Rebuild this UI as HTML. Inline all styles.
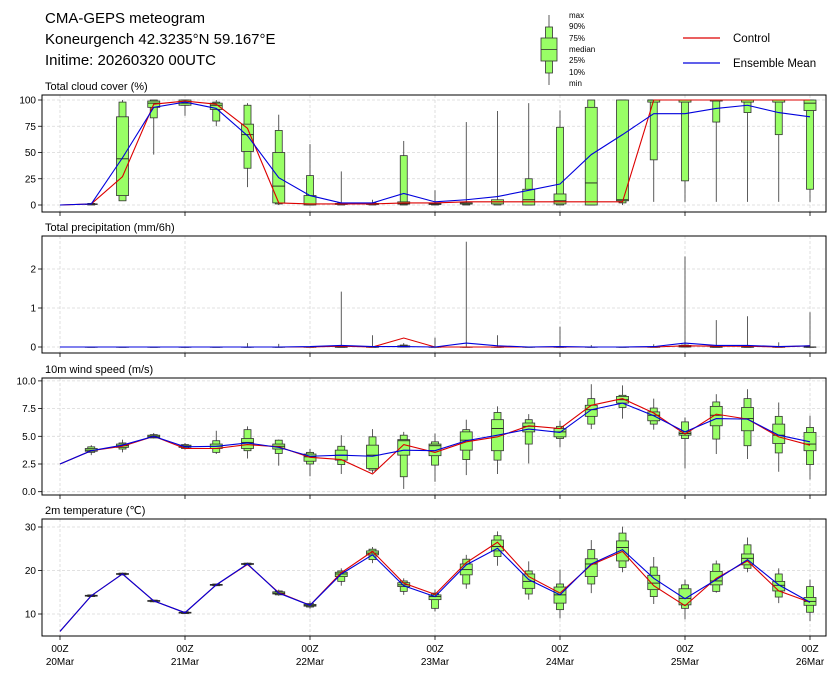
<!DOCTYPE html>
<html><head><meta charset="utf-8"><style>
html,body{margin:0;padding:0;background:#fff;}
svg{display:block;font-family:"Liberation Sans","DejaVu Sans",sans-serif;}
</style></head><body>
<svg id="chart" width="839" height="680" viewBox="0 0 839 680" xmlns="http://www.w3.org/2000/svg">
<g font-size="15" fill="#000">
<text x="45" y="23">CMA-GEPS meteogram</text>
<text x="45" y="44">Koneurgench 42.3235°N 59.167°E</text>
<text x="45" y="65">Initime: 20260320 00UTC</text>
</g>
<g>
<line x1="549" y1="15" x2="549" y2="85" stroke="#333" stroke-width="0.8"/>
<rect x="545.5" y="27" width="7" height="46" fill="#99ff66" stroke="#333" stroke-width="0.8"/>
<rect x="541" y="38" width="16" height="23" fill="#99ff66" stroke="#333" stroke-width="0.8"/>
<line x1="541" y1="49.5" x2="557" y2="49.5" stroke="#333" stroke-width="0.8"/>
<g font-size="8" fill="#000">
<text x="569" y="18">max</text><text x="569" y="29">90%</text><text x="569" y="41">75%</text>
<text x="569" y="52">median</text><text x="569" y="63">25%</text><text x="569" y="75">10%</text><text x="569" y="86">min</text>
</g>
</g>
<g font-size="11.5">
<line x1="683" y1="38" x2="720" y2="38" stroke="#dd0000" stroke-width="1.2"/>
<text x="733" y="42">Control</text>
<line x1="683" y1="63" x2="720" y2="63" stroke="#0000dd" stroke-width="1.2"/>
<text x="733" y="67">Ensemble Mean</text>
</g>
<g id="panels"></g>
</svg>
<script>
// ---- data ----
const dayLabels = ["20Mar","21Mar","22Mar","23Mar","24Mar","25Mar","26Mar"];
const cloudTicks = [0,25,50,75,100];
const cloudMax = [null,2,100,100,100,100,97,86,58,32,5,61,14,79,89.5,97,90,100,100,100,100,100,100,100,100];
const cloudP90 = [null,1.5,98,100,100,98,95,71,28,2,2,47,2,2,3,25,74,100,100,100,100,100,100,100,100];
const cloudP75 = [null,1,84,99,100,97,77,50,9,1.5,1.5,3,2,2,5,15,10.5,93,100,100,100,100,100,100,100];
const cloudMed = [null,1,44,97,97,95,67,18,1,1,1,1,1,1,3,5,4,21,5,100,100,100,100,100,97];
const cloudP25 = [null,0.5,9,93,95,91,51,2,0,0.5,0.5,1,0.5,1,1,0,1,0,4,98,98,99,98,98,90];
const cloudP10 = [null,0,4,83,95,80,35,1,0,0,0,0,0,0,0,0,0,0,2,43,23,79,88,67,15];
const cloudMin = [null,0,4,48,85,75,17,0,0,0,0,0,0,0,0,0,0,0,0,3,3,3,3,3,3];
const cloudMean = [0,1,45,93,98,92,66,26,9,2,2,11,3,5,8,14,20,48,67,87,87,92,95,88,84];
const cloudCtrl = [0,1,27,96,99,96,73,2,1,1,1,2,2,3,3,3,3,3,3,100,100,100,100,100,100];

const precTicks = [0,1,2];
const precMax = [null,0,0,0,0,0,0.1,0.08,0,1.42,0.3,0.1,0.24,2.7,0.3,0,0.52,0.05,0,0.07,2.32,0.69,0.79,0.12,0.89];
const precP90 = [null,0,0,0,0,0,0,0,0,0,0,0.05,0,0,0,0,0,0,0,0,0.05,0,0,0,0];
const precP75 = [null,0,0,0,0,0,0,0,0,0,0,0.03,0,0,0,0,0,0,0,0,0.04,0,0,0,0];
const precMed = [null,0,0,0,0,0,0,0,0,0,0,0.01,0,0,0,0,0,0,0,0,0.01,0,0,0,0];
const precP25 = [null,0,0,0,0,0,0,0,0,0,0,0,0,0,0,0,0,0,0,0,0,0,0,0,0];
const precP10 = [null,0,0,0,0,0,0,0,0,0,0,0,0,0,0,0,0,0,0,0,0,0,0,0,0];
const precMin = [null,0,0,0,0,0,0,0,0,0,0,0,0,0,0,0,0,0,0,0,0,0,0,0,0];
const precMean = [0,0,0,0,0,0,0,0,0.01,0.04,0.01,0.01,0,0.1,0.03,0,0.01,0,0,0.01,0.1,0.04,0.04,0.01,0.03];
const precCtrl = [0,0,0,0,0,0,0,0,0,0.02,0,0.23,0,0,0,0,0,0,0,0,0.03,0.02,0.02,0,0.03];

const windTicks = [0,2.5,5,7.5,10];
const windMax = [null,4.2,4.7,5.3,4.4,5.5,5.9,4.7,3.85,5.1,5.65,5.4,5.25,6.5,7.7,7.0,6.4,9.7,9.6,8.4,6.7,8.8,9.25,8.05,6.85];
const windP90 = [null,4.05,4.4,5.15,4.25,4.6,5.6,4.65,3.55,4.1,4.95,5.1,4.5,5.6,7.15,6.5,5.9,8.4,8.7,7.55,6.3,8.1,8.4,6.8,5.8];
const windP75 = [null,3.9,4.3,5.1,4.2,4.3,4.8,4.3,3.4,3.75,4.2,4.7,4.3,5.4,6.5,6.2,5.7,7.8,8.6,7.2,5.4,7.7,7.6,6.1,5.35];
const windMed = [null,3.75,4.15,5.0,4.1,4.1,4.45,4.1,3.15,3.3,3.3,4.6,4.15,4.65,5.7,5.9,5.4,7.4,8.3,6.9,5.25,6.9,6.6,5.1,4.3];
const windP25 = [null,3.65,4.0,4.9,4.0,3.9,3.9,3.85,2.75,2.85,2.1,3.3,3.25,3.75,3.7,5.4,4.95,6.8,8.0,6.4,5.1,5.95,5.5,4.35,3.7];
const windP10 = [null,3.55,3.85,4.85,3.9,3.55,3.7,3.45,2.5,2.45,1.95,1.35,2.4,2.9,2.85,4.3,4.8,6.1,7.6,6.1,4.8,4.75,4.15,3.5,2.45];
const windMin = [null,3.3,3.55,4.8,3.8,3.4,3.0,2.35,1.4,1.6,1.7,0.25,0.9,1.5,1.6,2.55,4.0,5.65,6.6,5.6,2.1,3.4,2.95,1.8,1.1];
const windMean = [2.5,3.7,4.2,5.0,4.05,4.1,4.4,4.0,3.2,3.3,3.2,3.75,3.7,4.6,5.1,5.65,5.35,7.4,8.0,6.85,5.4,6.6,6.55,5.1,4.5];
const windCtrl = [2.5,3.7,4.1,5.0,3.9,3.9,4.25,4.05,3.1,2.9,1.6,4.25,3.55,4.5,4.95,5.95,5.7,7.8,8.4,7.1,5.2,7.0,6.55,4.95,4.2];

const tempTicks = [10,20,30];
const tempMax = [null,14.5,19.5,13.3,10.6,17.0,21.8,15.6,12.9,20.5,25.4,18.2,15.6,23.6,29.0,22.1,20.2,27.0,30.1,23.1,17.9,22.3,27.6,20.5,17.9];
const tempP90 = [null,14.4,19.4,13.2,10.5,16.9,21.7,15.3,12.4,19.9,24.9,17.6,14.8,22.6,28.0,19.9,16.9,24.8,28.6,20.8,16.7,21.5,25.9,19.2,16.3];
const tempP75 = [null,14.3,19.3,13.1,10.4,16.8,21.6,15.1,12.2,19.6,24.5,17.2,14.4,21.5,27.0,19.2,16.2,22.7,26.8,18.9,15.8,19.8,23.8,17.5,13.8];
const tempMed = [null,14.2,19.2,13.0,10.3,16.7,21.5,14.8,12.0,19.2,24.0,16.7,14.0,20.2,25.5,17.5,14.4,21.5,25.3,17.1,13.6,17.6,22.8,16.6,12.9];
const tempP25 = [null,14.1,19.1,12.9,10.2,16.6,21.4,14.6,11.8,18.6,23.6,16.3,13.3,19.0,24.5,15.9,12.5,18.6,22.2,15.6,12.1,16.7,21.3,15.3,12.0];
const tempP10 = [null,14.0,19.0,12.8,10.1,16.5,21.3,14.4,11.6,17.5,22.5,15.2,11.3,16.9,23.2,14.6,11.0,16.9,20.7,14.0,11.3,15.2,20.5,13.9,10.4];
const tempMin = [null,13.9,18.9,12.7,10.0,16.4,21.2,14.2,11.2,16.5,21.7,14.4,10.6,15.8,21.1,13.3,9.0,14.8,19.6,12.3,8.8,14.9,19.6,12.5,8.4];
const tempMean = [6.0,14.2,19.2,13.0,10.3,16.7,21.5,14.8,12.0,19.2,23.6,16.5,14.0,21.3,25.1,17.9,14.4,21.5,24.8,18.2,13.5,17.9,22.5,16.7,12.7];
const tempCtrl = [6.0,14.2,19.2,13.0,10.3,16.7,21.4,14.9,12.0,19.5,24.4,17.1,14.5,21.8,26.5,18.6,14.8,21.3,24.4,16.5,11.9,18.2,22.2,15.3,12.7];

// ---- layout ----
const NS = "http://www.w3.org/2000/svg";
const L = 42, R = 826;
const xOf = i => 60 + i * 31.25;
const panels = [
  {name:"cloud-cover", title:"Total cloud cover (%)", top:95, bot:212, y0px:205, v0:0, ppu:1.05, ticks:cloudTicks, fmt:v=>String(v),
   d:[cloudMax,cloudP90,cloudP75,cloudMed,cloudP25,cloudP10,cloudMin], mean:cloudMean, ctrl:cloudCtrl},
  {name:"precipitation", title:"Total precipitation (mm/6h)", top:236, bot:353, y0px:347, v0:0, ppu:39, ticks:precTicks, fmt:v=>String(v),
   d:[precMax,precP90,precP75,precMed,precP25,precP10,precMin], mean:precMean, ctrl:precCtrl},
  {name:"wind-speed", title:"10m wind speed (m/s)", top:378, bot:495, y0px:491.7, v0:0, ppu:11.08, ticks:windTicks, fmt:v=>v.toFixed(1),
   d:[windMax,windP90,windP75,windMed,windP25,windP10,windMin], mean:windMean, ctrl:windCtrl},
  {name:"temperature", title:"2m temperature (\u2103)", top:519, bot:636, y0px:614, v0:10, ppu:4.35, ticks:tempTicks, fmt:v=>String(v),
   d:[tempMax,tempP90,tempP75,tempMed,tempP25,tempP10,tempMin], mean:tempMean, ctrl:tempCtrl}
];
function mk(tag, attrs, parent){const e=document.createElementNS(NS,tag);for(const k in attrs)e.setAttribute(k,attrs[k]);parent.appendChild(e);return e;}
const root = document.getElementById("panels");
panels.forEach((p, pi) => {
  const yOf = v => p.y0px - (v - p.v0) * p.ppu;
  const g = mk("g", {}, root);
  
  
  const t = mk("text", {x:45, y:p.top-5, "font-size":11}, g);
  t.textContent = p.title;
  
  
  const clipId = "clip" + pi;
  const cp = mk("clipPath", {id:clipId}, g);
  mk("rect", {x:L, y:p.top, width:R-L, height:p.bot-p.top}, cp);
  // grid
  for (let d = 0; d < 7; d++) {
    const x = xOf(d*4);
    const gl = mk("line", {x1:x, x2:x, y1:p.top, y2:p.bot, stroke:"#d8d8d8", "stroke-width":0.8, "stroke-dasharray":"3,2"}, g);
    
    
    mk("line", {x1:x, x2:x, y1:p.bot, y2:p.bot+4, stroke:"#000", "stroke-width":0.8}, g);
    if (pi === 3) {
      const tl = mk("text", {x:x, y:p.bot+16, "font-size":10, "text-anchor":"middle"}, g);
      tl.textContent = "00Z";
      
      
      const tl2 = mk("text", {x:x, y:p.bot+29, "font-size":10, "text-anchor":"middle"}, g);
      tl2.textContent = dayLabels[d];
      
      
    }
  }
  p.ticks.forEach(v => {
    const y = yOf(v);
    const gl = mk("line", {x1:L, x2:R, y1:y, y2:y, stroke:"#d8d8d8", "stroke-width":0.8, "stroke-dasharray":"3,2"}, g);
    
    
    mk("line", {x1:L-4, x2:L, y1:y, y2:y, stroke:"#000", "stroke-width":0.8}, g);
    const tl = mk("text", {x:L-6, y:y+3.5, "font-size":10, "text-anchor":"end"}, g);
    tl.textContent = p.fmt(v);
    
    
  });
  const inner = mk("g", {"clip-path":"url(#"+clipId+")"}, g);
  const [mx,p90,p75,md,p25,p10,mn] = p.d;
  for (let i = 0; i < mx.length; i++) {
    if (mx[i] === null) continue;
    const x = xOf(i);
    const bg = mk("g", {}, inner);
    
    
    mk("line", {x1:x, x2:x, y1:yOf(mx[i]), y2:yOf(mn[i]), stroke:"#333", "stroke-width":0.8}, bg);
    mk("rect", {x:x-3.5, y:yOf(p90[i]), width:7, height:Math.max(0.3, yOf(p10[i])-yOf(p90[i])), fill:"#99ff66", stroke:"#333", "stroke-width":0.8}, bg);
    mk("rect", {x:x-6, y:yOf(p75[i]), width:12, height:Math.max(0.3, yOf(p25[i])-yOf(p75[i])), fill:"#99ff66", stroke:"#333", "stroke-width":0.8}, bg);
    mk("line", {x1:x-6, x2:x+6, y1:yOf(md[i]), y2:yOf(md[i]), stroke:"#222", "stroke-width":0.9}, bg);
  }
  const path = arr => arr.map((v,i)=>(i?"L":"M")+xOf(i).toFixed(2)+","+yOf(v).toFixed(2)).join(" ");
  const cl = mk("path", {d:path(p.ctrl), fill:"none", stroke:"#dd0000", "stroke-width":1.1}, inner);
  
  
  const ml = mk("path", {d:path(p.mean), fill:"none", stroke:"#0000dd", "stroke-width":1.1}, inner);
  
  
  const fr = mk("rect", {x:L, y:p.top, width:R-L, height:p.bot-p.top, fill:"none", stroke:"#000", "stroke-width":1}, g);
  
  
});
</script>
</body></html>
